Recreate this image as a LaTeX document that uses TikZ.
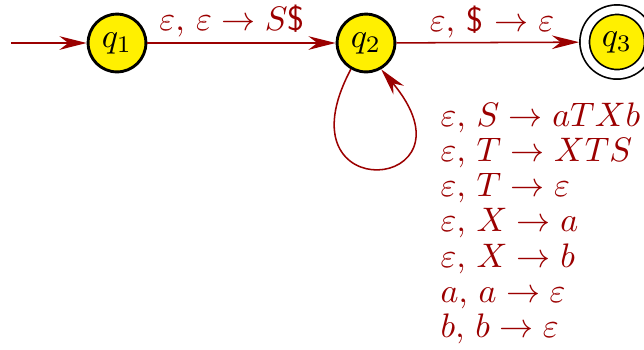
\documentclass[tikz,border=0pt]{standalone}
\usetikzlibrary{arrows.meta}
\definecolor{edgered}{RGB}{155,0,0}
\definecolor{stateyellow}{RGB}{255,240,0}
\begin{document}
\begin{tikzpicture}[x=0.2941pt,y=0.2941pt,
  state/.style={circle, draw=black, line width=0.85pt, fill=stateyellow,
    minimum size=17pt, inner sep=0pt},
  acceptstate/.style={circle, draw=black, line width=0.5pt, double=white,
    double distance=2.3pt, fill=stateyellow, minimum size=19pt, inner sep=0pt,
    outer sep=1.65pt},
  trans/.style={draw=edgered, line width=0.45pt,
    -{Stealth[length=8pt,width=4pt,inset=2.6pt]}},
  lab/.style={text=edgered, inner sep=0pt, anchor=base},
  listlab/.style={lab, anchor=base west, font=\fontsize{9.65pt}{10pt}\selectfont}]
\useasboundingbox (0,0) rectangle (644,-349);

\node[state] (q1) at (117,-43) {$q_1$};
\node[state] (q2) at (366,-43) {$q_2$};
\node[acceptstate] (q3) at (617,-42) {$q_3$};
\coordinate (start) at (11,-43);

\draw[trans] (start) -- (q1);
\draw[trans] (q1) -- (q2);
\draw[trans] (q2) -- (q3);
\draw[trans] (q2.-120) .. controls +(-118:160) and +(-50:160) .. (q2.-60);

\node[lab] (l1) at (232,-30.5) {$\varepsilon$, $\varepsilon\rightarrow S$\textsf{\$}};
\node[lab] (l2) at (492,-31) {$\varepsilon$, \textsf{\$} $\rightarrow\varepsilon$};

\foreach \t [count=\i] in {{$\varepsilon$, $S\rightarrow aTXb$},
  {$\varepsilon$, $T\rightarrow XTS$},
  {$\varepsilon$, $T\rightarrow\varepsilon$},
  {$\varepsilon$, $X\rightarrow a$},
  {$\varepsilon$, $X\rightarrow b$},
  {$a$, $a\rightarrow\varepsilon$},
  {$b$, $b\rightarrow\varepsilon$}}
  \node[listlab] (r\i) at (440,{-126-35.3*(\i-1)}) {\t};
\end{tikzpicture}
\end{document}
